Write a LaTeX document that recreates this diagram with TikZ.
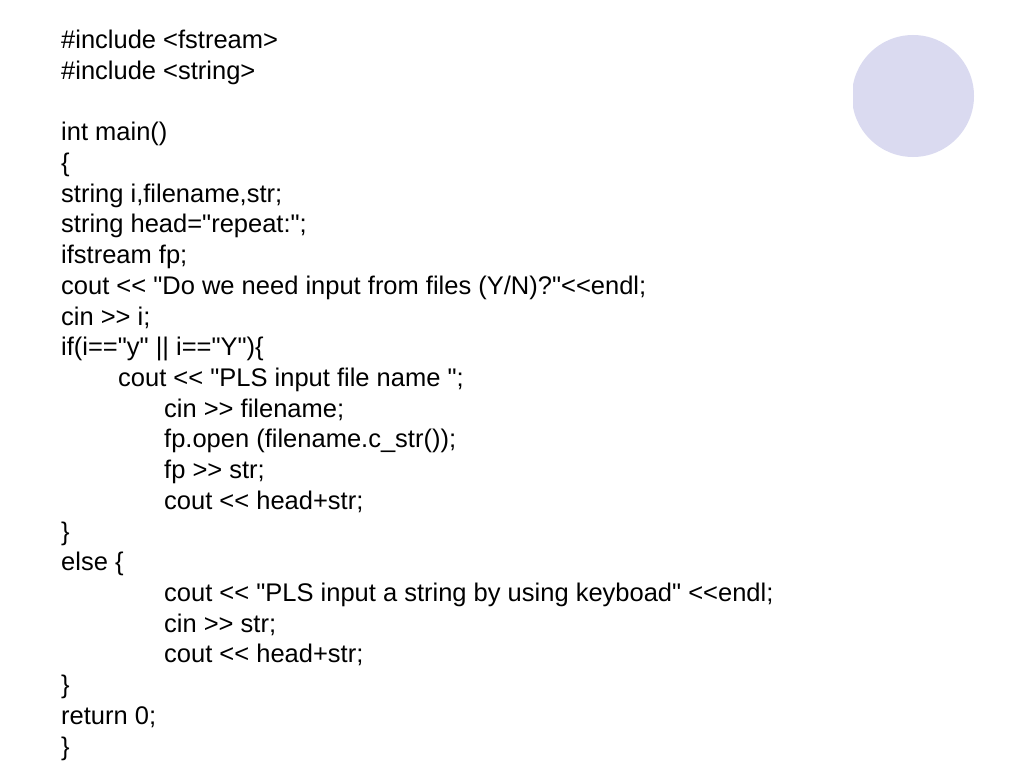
\documentclass[tikz,border=0pt]{standalone}
\usepackage{fontspec}
\newfontfamily\codefont{Liberation Sans}[Ligatures=ResetAll]
\definecolor{blobfill}{RGB}{218,218,240}
\tikzset{
  codeline/.style={anchor=base west, inner sep=0pt, font=\codefont\fontsize{25.5bp}{30.7bp}\selectfont},
}

\begin{document}
\begin{tikzpicture}[x=1bp,y=-1bp]
      \useasboundingbox (0,0) rectangle (1024,768);
      % corner blob, cut flat on its left
      \begin{scope}
        \clip (853,0) rectangle (1024,768);
        \fill[blobfill] (913,96) circle (61);
      \end{scope}
      % listing
      \node[codeline] (inc1) at (61,48.5) {\#include <fstream>};
      \node[codeline] (inc2) at (61,79.2) {\#include <string>};
      \node[codeline] (mainhd) at (61,140.7) {int main()};
      \node[codeline] (open) at (61,171.4) {\{};
      \node[codeline] (decl1) at (61,202.1) {string i,filename,str;};
      \node[codeline] (decl2) at (61,232.8) {string head="repeat:";};
      \node[codeline] (decl3) at (61,263.5) {ifstream fp;};
      \node[codeline] (ask) at (61,294.3) {cout << "Do we need input from files (Y/N)?"<<endl;};
      \node[codeline] (readi) at (61,325.0) {cin >> i;};
      \node[codeline] (ifhd) at (61,355.7) {if(i=="y" || i=="Y")\{};
        \node[codeline] (askf) at (118,386.4) {cout << "PLS input file name ";};
          \node[codeline] (readf) at (164,417.1) {cin >> filename;};
          \node[codeline] (fopen) at (164,447.9) {fp.open (filename.c\_str());};
          \node[codeline] (fread) at (164,478.6) {fp >> str;};
          \node[codeline] (fout) at (164,509.3) {cout << head+str;};
      \node[codeline] (ifend) at (61,540.0) {\}};
      \node[codeline] (elsehd) at (61,570.7) {else \{};
          \node[codeline] (asks) at (164,601.5) {cout << "PLS input a string by using keyboad" <<endl;};
          \node[codeline] (reads) at (164,632.2) {cin >> str;};
          \node[codeline] (sout) at (164,662.9) {cout << head+str;};
      \node[codeline] (elseend) at (61,693.6) {\}};
      \node[codeline] (ret) at (61,724.3) {return 0;};
      \node[codeline] (close) at (61,755.1) {\}};
\end{tikzpicture}
\end{document}
